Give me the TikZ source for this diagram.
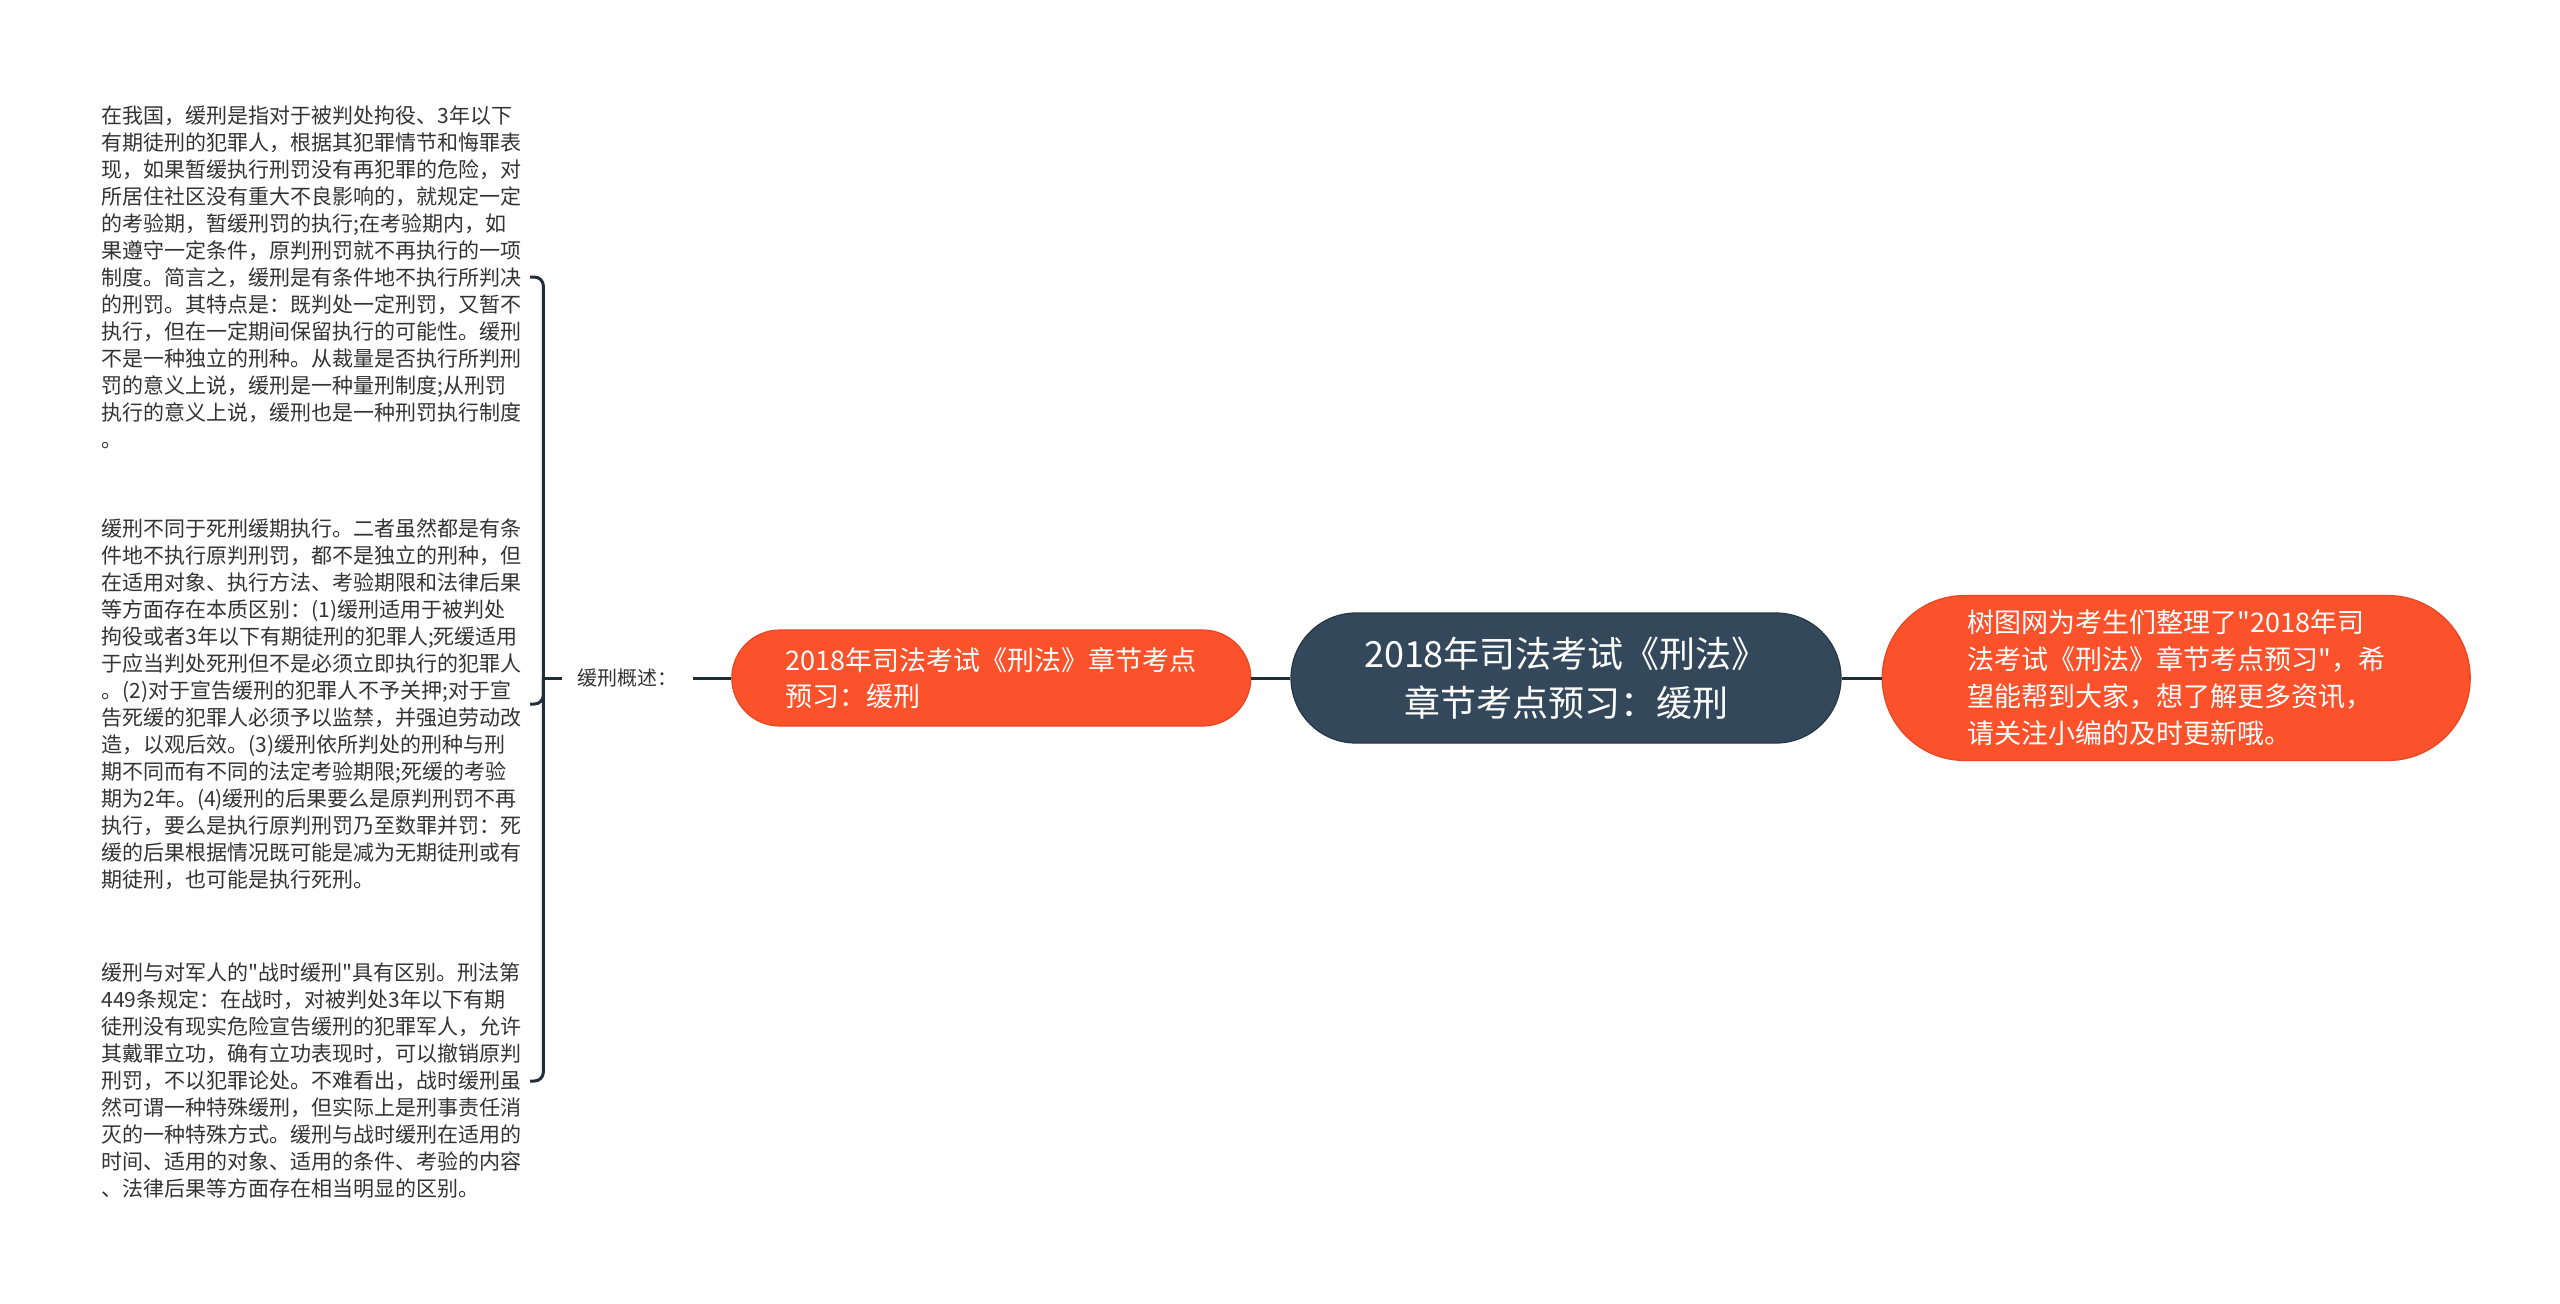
\documentclass[tikz,border=0pt]{standalone}
\usepackage{fontspec}
\defaultfontfeatures[\rmfamily,\sffamily]{}
\setmainfont{Noto Sans CJK SC}
\usetikzlibrary{positioning,calc}

\definecolor{rootblue}{RGB}{52,72,92}
\definecolor{rootedge}{RGB}{38,54,70}
\definecolor{hotorange}{RGB}{252,82,44}
\definecolor{orangeedge}{RGB}{230,70,34}
\definecolor{linkink}{RGB}{32,46,60}
\definecolor{bodyink}{RGB}{51,51,51}

\begin{document}
\begin{tikzpicture}[
    x=0.5pt, y=-0.5pt,
    pill/.style={rounded corners=#1, inner sep=0pt, text=white, line width=0.6pt},
    rootnode/.style={pill=32.5pt, fill=rootblue, draw=rootedge, minimum width=275pt, minimum height=65pt,
      align=center, font=\fontsize{18pt}{24.5pt}\selectfont},
    subnode/.style={pill=24pt, fill=hotorange, draw=orangeedge, minimum width=259.5pt, minimum height=48pt,
      align=left, font=\fontsize{13.5pt}{18pt}\selectfont},
    tipnode/.style={pill=41.25pt, fill=hotorange, draw=orangeedge, minimum width=294pt, minimum height=82.5pt,
      align=left, font=\fontsize{13.5pt}{18.5pt}\selectfont},
    lblnode/.style={inner sep=7.5pt, text=bodyink, font=\fontsize{10pt}{12pt}\selectfont},
    bodytext/.style={anchor=west, inner sep=0pt, align=left, text=bodyink, font=\fontsize{10.5pt}{13.5pt}\selectfont},
    link/.style={draw=linkink, line width=1.5pt},
    brace/.style={link, rounded corners=4.5pt}
  ]
  \useasboundingbox (0,0) rectangle (2560,1303);

  % centre and its two branches
  \node[rootnode] (root) at (1566,678) {2018年司法考试《刑法》\\章节考点预习：缓刑};
  \node[subnode, left=19.5pt of root] (sub) {2018年司法考试《刑法》章节考点\\预习：缓刑};
  \node[tipnode, right=20pt of root] (tip) {树图网为考生们整理了"2018年司\\法考试《刑法》章节考点预习"，希\\望能帮到大家，想了解更多资讯，\\请关注小编的及时更新哦。};
  \node[lblnode, left=19pt of sub] (lbl) {缓刑概述：};

  % detail texts
  \node[bodytext] (t1) at (101,277) {在我国，缓刑是指对于被判处拘役、3年以下\\有期徒刑的犯罪人，根据其犯罪情节和悔罪表\\现，如果暂缓执行刑罚没有再犯罪的危险，对\\所居住社区没有重大不良影响的，就规定一定\\的考验期，暂缓刑罚的执行;在考验期内，如\\果遵守一定条件，原判刑罚就不再执行的一项\\制度。简言之，缓刑是有条件地不执行所判决\\的刑罚。其特点是：既判处一定刑罚，又暂不\\执行，但在一定期间保留执行的可能性。缓刑\\不是一种独立的刑种。从裁量是否执行所判刑\\罚的意义上说，缓刑是一种量刑制度;从刑罚\\执行的意义上说，缓刑也是一种刑罚执行制度\\。};
  \node[bodytext] (t2) at (101,704) {缓刑不同于死刑缓期执行。二者虽然都是有条\\件地不执行原判刑罚，都不是独立的刑种，但\\在适用对象、执行方法、考验期限和法律后果\\等方面存在本质区别：(1)缓刑适用于被判处\\拘役或者3年以下有期徒刑的犯罪人;死缓适用\\于应当判处死刑但不是必须立即执行的犯罪人\\。(2)对于宣告缓刑的犯罪人不予关押;对于宣\\告死缓的犯罪人必须予以监禁，并强迫劳动改\\造，以观后效。(3)缓刑依所判处的刑种与刑\\期不同而有不同的法定考验期限;死缓的考验\\期为2年。(4)缓刑的后果要么是原判刑罚不再\\执行，要么是执行原判刑罚乃至数罪并罚：死\\缓的后果根据情况既可能是减为无期徒刑或有\\期徒刑，也可能是执行死刑。};
  \node[bodytext] (t3) at (101,1081) {缓刑与对军人的"战时缓刑"具有区别。刑法第\\449条规定：在战时，对被判处3年以下有期\\徒刑没有现实危险宣告缓刑的犯罪军人，允许\\其戴罪立功，确有立功表现时，可以撤销原判\\刑罚，不以犯罪论处。不难看出，战时缓刑虽\\然可谓一种特殊缓刑，但实际上是刑事责任消\\灭的一种特殊方式。缓刑与战时缓刑在适用的\\时间、适用的对象、适用的条件、考验的内容\\、法律后果等方面存在相当明显的区别。};

  \draw[link] (tip) -- (root);
  \draw[link] (root) -- (sub);
  \draw[link] (sub) -- (lbl);
  \draw[link] (lbl.west) -- ++(-19,0) coordinate (bj);

  % brace
  \draw[brace] ($(t1.west)+(429,0)$) -| (bj) |- ($(t3.west)+(429,0)$);
  \draw[brace] ($(t2.west)+(429,0)$) -| (bj);
\end{tikzpicture}
\end{document}
